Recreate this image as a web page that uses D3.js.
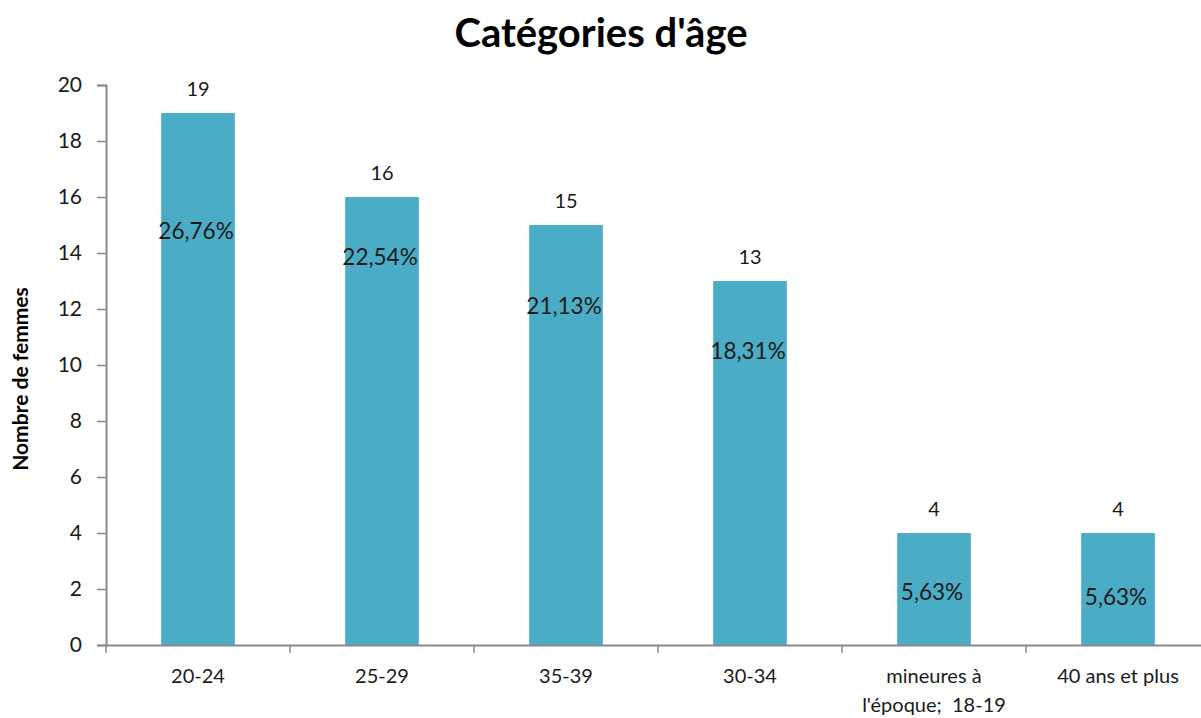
<!DOCTYPE html>
<html>
<head>
<meta charset="utf-8">
<script src="https://cdn.jsdelivr.net/npm/d3@7"></script>
<style>
    body { margin: 0; background: #fff; }
    svg text { font-family: Lato, "Open Sans", sans-serif; fill: #1a1a1a; }
</style>
</head>
<body>
<svg id="chart" width="1201" height="718"></svg>
<script>
// Data
const categories = ["20-24", "25-29", "35-39", "30-34", "mineures à\nl'époque;  18-19", "40 ans et plus"];
const counts = [19, 16, 15, 13, 4, 4];
const percents = ["26,76%", "22,54%", "21,13%", "18,31%", "5,63%", "5,63%"];
// where the hand-placed percent labels sit, in axis units
const percentAt = [14.8, 13.85, 12.1, 10.5, 1.9, 1.7];
const yTicks = [0, 2, 4, 6, 8, 10, 12, 14, 16, 18, 20];

const svg = d3.select("#chart");
const plotLeft = 106, plotRight = 1210, plotTop = 85, plotBottom = 645;
const axisColor = "#888888";

const x = d3.scaleBand()
    .domain(categories)
    .range([plotLeft, plotRight])
    .paddingInner(0)
    .paddingOuter(0);

const y = d3.scaleLinear()
    .domain([0, 20])
    .range([plotBottom, plotTop]);

const barWidth = x.bandwidth() * 0.4;

// title
svg.append("text")
    .attr("x", 601)
    .attr("y", 47)
    .attr("text-anchor", "middle")
    .style("font-size", "40px")
    .style("font-weight", "bold")
    .style("fill", "#000")
    .text("Catégories d'âge");

// y axis title
svg.append("text")
    .attr("transform", `translate(28,${(plotTop + plotBottom) / 2 + 14}) rotate(-90)`)
    .attr("text-anchor", "middle")
    .style("font-size", "21px")
    .style("font-weight", "bold")
    .style("fill", "#000")
    .text("Nombre de femmes");

// bars
svg.append("g")
    .selectAll("rect")
    .data(counts)
    .join("rect")
    .attr("x", (d, i) => x(categories[i]) + (x.bandwidth() - barWidth) / 2)
    .attr("y", d => y(d))
    .attr("width", barWidth)
    .attr("height", d => y(0) - y(d))
    .attr("fill", "#4BACC6");

// y axis
const yAxis = svg.append("g")
    .attr("transform", `translate(${plotLeft},0)`)
    .call(d3.axisLeft(y).tickValues(yTicks).tickSize(9).tickPadding(15));
yAxis.select(".domain").attr("stroke", axisColor).attr("stroke-width", 2);
yAxis.selectAll(".tick line").attr("stroke", axisColor).attr("stroke-width", 1.5);
yAxis.selectAll(".tick text")
    .style("font-size", "21px")
    .style("font-family", "Lato, sans-serif")
    .attr("fill", "#1a1a1a");

// x axis
const xAxis = svg.append("g")
    .attr("transform", `translate(0,${plotBottom})`)
    .call(d3.axisBottom(x).tickSize(0).tickFormat(""));
xAxis.select(".domain").attr("stroke", axisColor).attr("stroke-width", 2);

// tick marks between categories
svg.append("g")
    .selectAll("line")
    .data(categories)
    .join("line")
    .attr("x1", d => x(d))
    .attr("x2", d => x(d))
    .attr("y1", plotBottom)
    .attr("y2", plotBottom + 8)
    .attr("stroke", axisColor)
    .attr("stroke-width", 1.5);

// category labels
svg.append("g")
    .selectAll("text")
    .data(categories)
    .join("text")
    .attr("text-anchor", "middle")
    .attr("x", d => x(d) + x.bandwidth() / 2)
    .attr("y", 683)
    .style("font-size", "20px")
    .style("white-space", "pre")
    .each(function (d) {
        const lines = d.split("\n");
        d3.select(this)
            .selectAll("tspan")
            .data(lines)
            .join("tspan")
            .attr("x", x(d) + x.bandwidth() / 2)
            .attr("dy", (l, j) => j === 0 ? 0 : 29)
            .text(l => l);
    });

// value labels
svg.append("g")
    .selectAll("text")
    .data(counts)
    .join("text")
    .attr("text-anchor", "middle")
    .attr("x", (d, i) => x(categories[i]) + x.bandwidth() / 2)
    .attr("y", d => y(d) - 17)
    .style("font-size", "20px")
    .text(d => d);

// percent labels
svg.append("g")
    .selectAll("text")
    .data(percents)
    .join("text")
    .attr("text-anchor", "middle")
    .attr("x", (d, i) => x(categories[i]) + x.bandwidth() / 2 - 2)
    .attr("y", (d, i) => y(percentAt[i]) + 8)
    .style("font-size", "22.5px")
    .text(d => d);
</script>
</body>
</html>
